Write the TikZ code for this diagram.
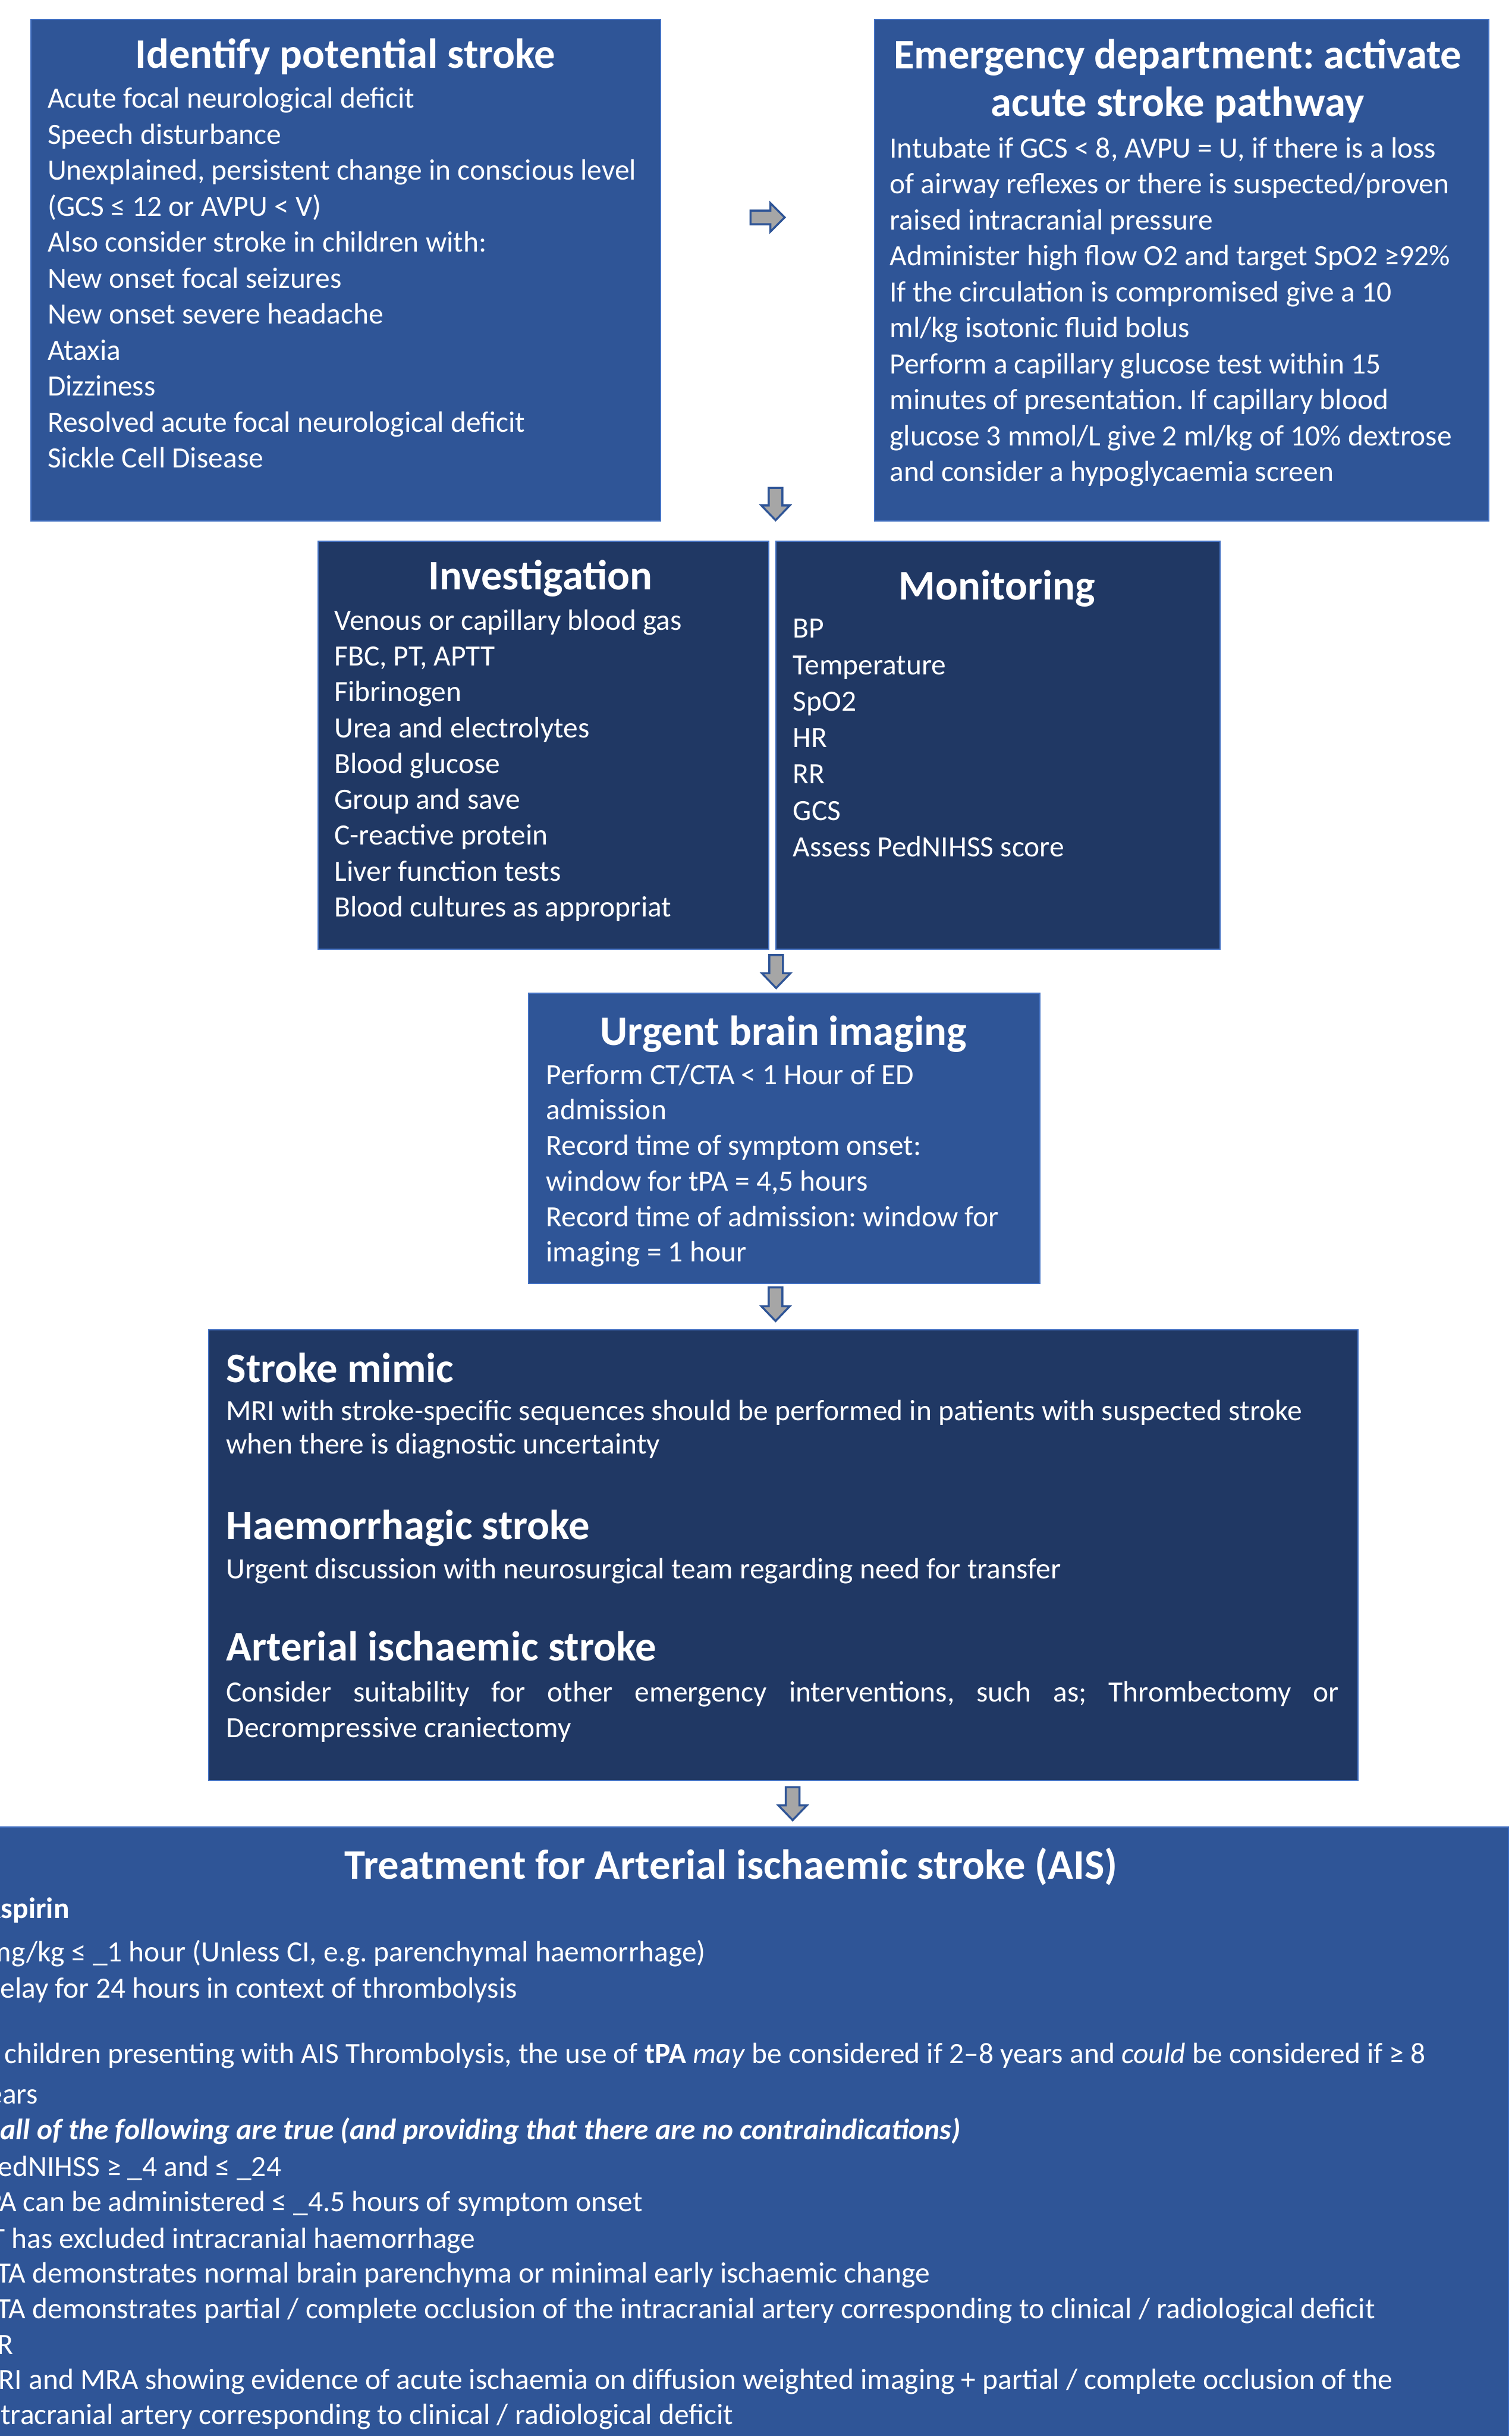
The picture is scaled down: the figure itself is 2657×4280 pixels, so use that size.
\documentclass[tikz,border=0pt]{standalone}
\usepackage{fontspec}
\setmainfont{Carlito}
\usetikzlibrary{calc,fit}
\definecolor{midblue}{HTML}{2F5597}
\definecolor{navy}{HTML}{203864}
\definecolor{edgeblue}{HTML}{4472C4}
\definecolor{arrowgray}{HTML}{A6A6A6}
\definecolor{arrowline}{HTML}{2F5597}
\newcommand\ns{\spaceskip=0pt\xspaceskip=0pt\frenchspacing\relax}
\tikzset{
  box/.style={draw=edgeblue, line width=0.02cm, inner sep=0pt},
  midbox/.style={box, fill=midblue},
  navybox/.style={box, fill=navy},
  ttl/.style={text=white, inner sep=0pt, anchor=base,
    font=\fontsize{21}{23.6}\selectfont\bfseries\frenchspacing},
  head/.style={text=white, inner sep=0pt, anchor=base west,
    font=\fontsize{21}{23.6}\selectfont\bfseries},
  body/.style={text=white, inner sep=0pt, anchor=base west, align=left, text width=26cm,
    font=\fontsize{14.7}{17.98}\selectfont},
  line/.style={text=white, inner sep=0pt, anchor=base west,
    font=\fontsize{14.7}{17.98}\selectfont\frenchspacing},
  blockarrow/.style={draw=arrowline, fill=arrowgray, line width=0.035cm, line join=miter},
}
% #1 start, #2 end, #3 shaft half width, #4 head half width, #5 head length
\newcommand\blockarr[5]{%
  \coordinate (tmpn) at ($(#2)!#5!(#1)$);
  \draw[blockarrow] ($(#1)!#3!90:(#2)$) -- ($(tmpn)!#3!-90:(#1)$) -- ($(tmpn)!#4!-90:(#1)$)
    -- (#2) -- ($(tmpn)!#4!90:(#1)$) -- ($(tmpn)!#3!90:(#1)$) -- ($(#1)!#3!-90:(#2)$) -- cycle;
}
\begin{document}
\begin{tikzpicture}[x=0.01cm,y=-0.01cm]
\useasboundingbox[fill=white] (0,0) rectangle (2657,4280);
\clip (0,0) rectangle (2657,4280);

% ---------- boxes ----------
\node[midbox, fit={(54,34) (1161,915)}] (identify) {};
\node[midbox, fit={(1537,34) (2616,915)}] (emergency) {};
\node[navybox, fit={(559,951) (1351,1668)}] (investigation) {};
\node[navybox, fit={(1364,951) (2144,1668)}] (monitoring) {};
\node[midbox, fit={(929,1745) (1828,2255)}] (imaging) {};
\node[navybox, fit={(367,2336) (2387,3128)}] (outcome) {};
\node[midbox, fit={(-75,3210) (2651,4330)}] (treatment) {};

% ---------- Identify potential stroke ----------
\node[ttl] (t1) at (607,120) {Identify potential stroke};
\node[body] (b1) at (83,190) {\ns Acute focal neurological deficit\\
Speech disturbance\\
Unexplained, persistent change in conscious level\\
(GCS ≤ 12 or AVPU < V)\\
Also consider stroke in children with:\\
New onset focal seizures\\
New onset severe headache\\
Ataxia\\
Dizziness\\
Resolved acute focal neurological deficit\\
Sickle Cell Disease};

% ---------- Emergency department ----------
\node[ttl] (t2a) at (2070,121) {Emergency department: activate};
\node[ttl] (t2b) at (2070,204) {acute stroke pathway};
\node[body] (b2) at (1563,277) {\ns Intubate if GCS < 8, AVPU = U, if there is a loss\\
of airway reflexes or there is suspected/proven\\
raised intracranial pressure\\
Administer high flow O2 and target SpO2 ≥92\%\\
If the circulation is compromised give a 10\\
ml/kg isotonic fluid bolus\\
Perform a capillary glucose test within 15\\
minutes of presentation. If capillary blood\\
glucose 3 mmol/L give 2 ml/kg of 10\% dextrose\\
and consider a hypoglycaemia screen};

% ---------- Investigation ----------
\node[ttl] (t3) at (950,1036) {Investigation};
\node[body, font=\fontsize{14.7}{17.9}\selectfont] (b3) at (587,1107) {\ns Venous or capillary blood gas\\
FBC, PT, APTT\\
Fibrinogen\\
Urea and electrolytes\\
Blood glucose\\
Group and save\\
C-reactive protein\\
Liver function tests\\
Blood cultures as appropriat};

% ---------- Monitoring ----------
\node[ttl] (t4) at (1752,1054) {Monitoring};
\node[body, font=\fontsize{14.7}{18.2}\selectfont] (b4) at (1393,1121) {\ns BP\\
Temperature\\
SpO2\\
HR\\
RR\\
GCS\\
Assess PedNIHSS score};

% ---------- Urgent brain imaging ----------
\node[ttl] (t5) at (1377,1836) {Urgent brain imaging};
\node[body, font=\fontsize{14.7}{17.75}\selectfont] (b5) at (959,1905) {\ns Perform CT/CTA < 1 Hour of ED\\
admission\\
Record time of symptom onset:\\
window for tPA = 4,5 hours\\
Record time of admission: window for\\
imaging = 1 hour};

% ---------- Stroke types ----------
\node[head] (h61) at (397,2429) {Stroke mimic};
\node[body, font=\fontsize{14.7}{16.5}\selectfont] (b61) at (397,2496) {\ns MRI with stroke-specific sequences should be performed in patients with suspected stroke\\
when there is diagnostic uncertainty};
\node[head] (h62) at (397,2705) {Haemorrhagic stroke};
\node[body] (b62) at (397,2774) {\ns Urgent discussion with neurosurgical team regarding need for transfer};
\node[head] (h63) at (397,2918) {Arterial ischaemic stroke};
\node[body, font=\fontsize{14.7}{17.9}\selectfont] (b63) at (397,2990) {\ns\hbox to 19.54cm{Consider\hfill suitability\hfill for\hfill other\hfill emergency\hfill interventions,\hfill such\hfill as;\hfill Thrombectomy\hfill or}\\
Decrompressive craniectomy};

% ---------- Treatment ----------
\node[ttl] (t7) at (1285,3301) {Treatment for Arterial ischaemic stroke (AIS)};
\node[line, font=\fontsize{14.7}{17.98}\selectfont\bfseries] (l1) at (-30,3370) {Aspirin};
\node[line] (l2) at (-22,3447) {mg/kg ≤ \_1 hour (Unless CI, e.g. parenchymal haemorrhage)};
\node[line] (l3) at (-32,3510) {Delay for 24 hours in context of thrombolysis};
\node[line] (l4) at (-45,3625) {In children presenting with AIS Thrombolysis, the use of \textbf{tPA} \textit{may} be considered if 2–8 years and \textit{could} be considered if ≥ 8};
\node[line] (l5) at (-45,3696) {years};
\node[line, font=\fontsize{14.7}{17.98}\selectfont\bfseries\itshape\frenchspacing] (l6) at (-42,3759) {If all of the following are true (and providing that there are no contraindications)};
\node[line] (l7) at (-30,3824) {PedNIHSS ≥ \_4 and ≤ \_24};
\node[line] (l8) at (-42,3886) {tPA can be administered ≤ \_4.5 hours of symptom onset};
\node[line] (l9) at (-45,3950) {CT has excluded intracranial haemorrhage};
\node[line] (l10) at (-34,4011) {CTA demonstrates normal brain parenchyma or minimal early ischaemic change};
\node[line] (l11) at (-34,4074) {CTA demonstrates partial / complete occlusion of the intracranial artery corresponding to clinical / radiological deficit};
\node[line] (l12) at (-40,4136) {OR};
\node[line] (l13) at (-47,4198) {MRI and MRA showing evidence of acute ischaemia on diffusion weighted imaging + partial / complete occlusion of the};
\node[line] (l14) at (-38,4260) {intracranial artery corresponding to clinical / radiological deficit};

% ---------- block arrows ----------
\coordinate (a0s) at (1319,382);  \coordinate (a0e) at (1379,382);
\coordinate (a1s) at (1363,857);  \coordinate (a1e) at (1363,914);
\coordinate (a2s) at (1364,1678); \coordinate (a2e) at (1364,1736);
\coordinate (a3s) at (1363,2262); \coordinate (a3e) at (1363,2321);
\coordinate (a4s) at (1393,3140); \coordinate (a4e) at (1393,3198);
\blockarr{a0s}{a0e}{0.12cm}{0.25cm}{0.25cm}
\blockarr{a1s}{a1e}{0.12cm}{0.25cm}{0.26cm}
\blockarr{a2s}{a2e}{0.12cm}{0.25cm}{0.26cm}
\blockarr{a3s}{a3e}{0.12cm}{0.25cm}{0.26cm}
\blockarr{a4s}{a4e}{0.12cm}{0.25cm}{0.26cm}
\end{tikzpicture}
\end{document}
